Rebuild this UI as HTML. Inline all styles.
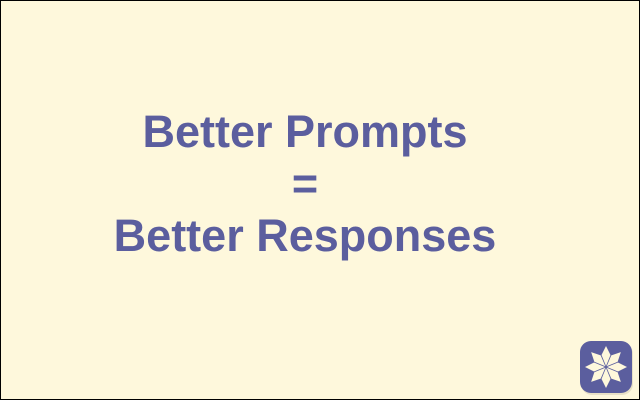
<!DOCTYPE html>
<html><head><style>
html,body{margin:0;padding:0;background:#fff;width:644px;height:408px;overflow:hidden}
.box{position:absolute;left:0;top:0;width:638px;height:398px;border:1px solid #000;background:#fef8dc}
.t{position:absolute;left:0;width:610px;text-align:center;font-family:"Liberation Sans",sans-serif;font-weight:bold;font-size:45px;color:#5b5e9e;line-height:52px}
</style></head><body>
<div class="box"></div>
<div class="t" style="top:106px">Better Prompts</div>
<div class="t" style="top:158px">=</div>
<div class="t" style="top:210px">Better Responses</div>
<svg style="position:absolute;left:578px;top:339px" width="56" height="56" viewBox="0 0 56 56">
<rect x="3" y="4" width="52" height="52" rx="11" fill="#d8d2b8" opacity="0.6"/>
<rect x="2" y="2" width="52" height="52" rx="11" fill="#5b5e9e"/>
<g transform="translate(28,28)" fill="#fef8dc">
<path id="p" d="M0,-1 L-4.5,-12 L0,-21 L4.5,-12 Z"/>
<use href="#p" transform="rotate(45)"/><use href="#p" transform="rotate(90)"/><use href="#p" transform="rotate(135)"/>
<use href="#p" transform="rotate(180)"/><use href="#p" transform="rotate(225)"/><use href="#p" transform="rotate(270)"/><use href="#p" transform="rotate(315)"/>
</g>
</svg>
</body></html>
